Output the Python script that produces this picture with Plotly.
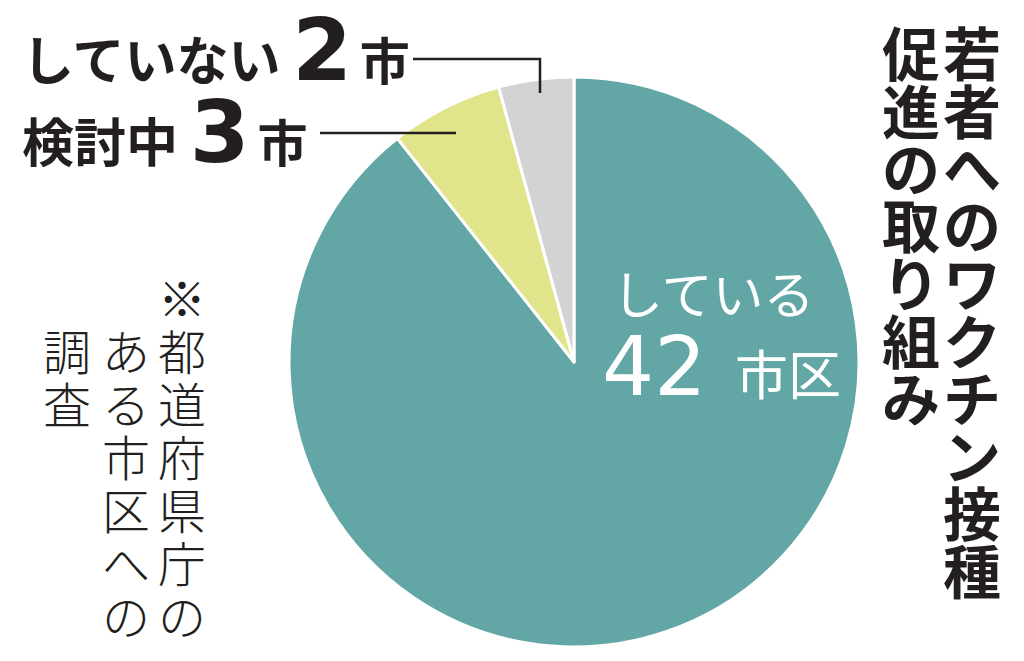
import plotly.graph_objects as go

categories = ["している", "検討中", "していない"]
values = [42, 3, 2]
units = ["市区", "市", "市"]
colors = ["#62a7a6", "#e0e48a", "#d3d3d3"]

title_cols = ["若者へのワクチン接種", "促進の取り組み"]
note_cols = ["※都道府県庁の", "ある市区への", "調査"]

W, H = 1024, 661
def px(x): return x / W
def py(y): return 1 - y / H

JP = "Noto Sans CJK JP"
NUM = "DejaVu Sans"
INK = "#231f20"

fig = go.Figure(go.Pie(
    labels=categories, values=values, sort=False, direction="clockwise", rotation=0,
    marker=dict(colors=colors, line=dict(color="white", width=3)),
    textinfo="none", hoverinfo="skip",
    domain=dict(x=[px(289), px(859)], y=[py(647), py(77)]),
    showlegend=False,
))

ann = []
# vertical title
for x0, col in zip([972, 911], title_cols):
    for i, ch in enumerate(col):
        ann.append(dict(x=px(x0), y=py(51 + i * 57.5), text=ch, showarrow=False,
                        xanchor="center", yanchor="middle",
                        font=dict(family=JP, size=58, color=INK, weight="bold")))
# vertical note
for x0, y0, col in zip([182, 126, 67], [296, 349, 349], note_cols):
    for i, ch in enumerate(col):
        ann.append(dict(x=px(x0), y=py(y0 + i * 53), text=ch, showarrow=False,
                        xanchor="center", yanchor="middle",
                        font=dict(family=JP, size=48, color=INK, weight=300)))

def label(cat, val, unit, bigsize, unitsize):
    return (f"{cat} <span style='font-family:{NUM};font-size:{bigsize}px'>{val}</span>"
            f"<span style='font-size:34px'> </span><span style='font-size:{unitsize}px'>{unit}</span>")

ann.append(dict(x=px(20), y=py(50), text=label(categories[2], values[2], units[2], 86, 50),
                showarrow=False, xanchor="left", yanchor="middle",
                font=dict(family=JP, size=52, color=INK, weight="bold")))
ann.append(dict(x=px(20), y=py(132), text=label(categories[1], values[1], units[1], 86, 50),
                showarrow=False, xanchor="left", yanchor="middle",
                font=dict(family=JP, size=52, color=INK, weight="bold")))

# inside label
ann.append(dict(x=px(610), y=py(292), text=categories[0], showarrow=False,
                xanchor="left", yanchor="middle",
                font=dict(family=JP, size=51, color="white")))
ann.append(dict(x=px(600), y=py(366), text=str(values[0]), showarrow=False,
                xanchor="left", yanchor="middle",
                font=dict(family=NUM, size=82, color="white")))
ann.append(dict(x=px(733), y=py(372), text=units[0], showarrow=False,
                xanchor="left", yanchor="middle",
                font=dict(family=JP, size=53, color="white")))

shapes = [
    dict(type="path", xref="paper", yref="paper",
         path=f"M {px(413)} {py(59)} L {px(540)} {py(59)} L {px(540)} {py(93)}",
         line=dict(color=INK, width=2.5)),
    dict(type="line", xref="paper", yref="paper", x0=px(320), x1=px(456), y0=py(133), y1=py(133),
         line=dict(color=INK, width=2.5)),
]

fig.update_layout(width=W, height=H, margin=dict(l=0, r=0, t=0, b=0),
                  paper_bgcolor="white", plot_bgcolor="white",
                  annotations=ann, shapes=shapes)
fig.write_html("out.html", config={"displayModeBar": False},
               post_script="document.body.style.margin='0';")
